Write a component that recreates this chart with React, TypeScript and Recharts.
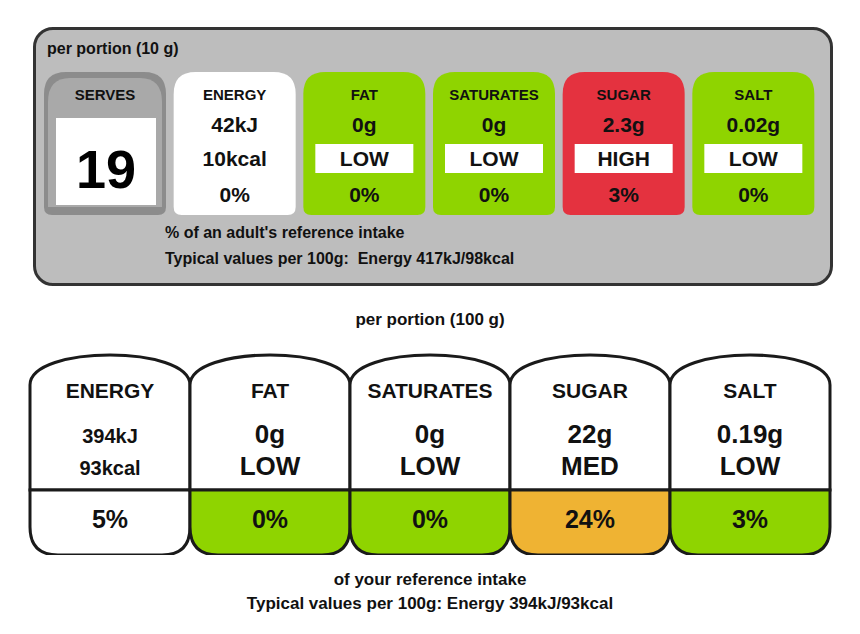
import React from "react";
import { BarChart, Bar, XAxis, YAxis } from "recharts";

const topNames = ["SERVES", "ENERGY", "FAT", "SATURATES", "SUGAR", "SALT"];
const topValues = ["19", "42kJ", "0g", "0g", "2.3g", "0.02g"];
const topSecond = ["", "10kcal", "LOW", "LOW", "HIGH", "LOW"];
const topPercents = ["", "0%", "0%", "0%", "3%", "0%"];
const topColors = ["#9a9a9a", "#ffffff", "#8fd400", "#8fd400", "#e4323f", "#8fd400"];

const botNames = ["ENERGY", "FAT", "SATURATES", "SUGAR", "SALT"];
const botValues = ["394kJ", "0g", "0g", "22g", "0.19g"];
const botSecond = ["93kcal", "LOW", "LOW", "MED", "LOW"];
const botPercents = ["5%", "0%", "0%", "24%", "3%"];
const botColors = ["#ffffff", "#8fd400", "#8fd400", "#efb333", "#8fd400"];

const topData = topNames.map((n, i) => ({ name: n, v: 1, value: topValues[i], second: topSecond[i], pct: topPercents[i], color: topColors[i], idx: i }));
const botData = botNames.map((n, i) => ({ name: n, v: 1, value: botValues[i], second: botSecond[i], pct: botPercents[i], color: botColors[i], idx: i }));

const F = "Arial, 'Liberation Sans', sans-serif";

const TopCell = (p: any) => {
  const { x, y, width: w, height: h, payload } = p;
  const rt = 22, rb = 8;
  const d = `M${x},${y + h - rb} L${x},${y + rt} Q${x},${y} ${x + rt},${y} L${x + w - rt},${y} Q${x + w},${y} ${x + w},${y + rt} L${x + w},${y + h - rb} Q${x + w},${y + h} ${x + w - rb},${y + h} L${x + rb},${y + h} Q${x},${y + h} ${x},${y + h - rb} Z`;
  const cx = x + w / 2;
  const t = { fontFamily: F, fontWeight: 700, textAnchor: "middle" as const, fill: "#111" };
  if (payload.idx === 0) {
    return (
      <g>
        <path d={d} fill="#8c8c8c" />
        <path d={`M${x + 4},${y + 30} Q${x + 4},${y + 6} ${x + 26},${y + 6} L${x + w - 26},${y + 6} Q${x + w - 4},${y + 6} ${x + w - 4},${y + 30} L${x + w - 4},${y + h - 8} L${x + 4},${y + h - 8} Z`} fill="#a9a9a9" />
        <text x={cx} y={y + 28} fontSize={15} {...t}>{payload.name}</text>
        <rect x={x + 12} y={y + 46} width={w - 22} height={87} fill="#fff" />
        <text x={cx + 1} y={y + 116} fontSize={54} {...t} fill="#000">{payload.value}</text>
      </g>
    );
  }
  const boxed = payload.idx >= 2;
  return (
    <g>
      <path d={d} fill={payload.color} />
      <text x={cx} y={y + 28} fontSize={15} {...t}>{payload.name}</text>
      <text x={cx} y={y + 60} fontSize={21} {...t}>{payload.value}</text>
      {boxed && <rect x={x + 12} y={y + 72} width={w - 24} height={29} fill="#fff" />}
      <text x={cx} y={y + 94} fontSize={21} {...t}>{payload.second}</text>
      <text x={cx} y={y + 130} fontSize={21} {...t}>{payload.pct}</text>
    </g>
  );
};

const BotCell = (p: any) => {
  const { x, y, width: w, height: h, payload } = p;
  const mid = y + 140;
  const b = y + h;
  const r = 28;
  const top = `M${x},${mid} L${x},${y + 35} C${x},${y - 5} ${x + w},${y - 5} ${x + w},${y + 35} L${x + w},${mid} Z`;
  const bot = `M${x},${mid} L${x + w},${mid} L${x + w},${b - r} Q${x + w},${b} ${x + w - r},${b} L${x + r},${b} Q${x},${b} ${x},${b - r} Z`;
  const cx = x + w / 2;
  const t = { fontFamily: F, fontWeight: 700, textAnchor: "middle" as const, fill: "#111" };
  const isE = payload.idx === 0;
  return (
    <g>
      <path d={top} fill="#fff" stroke="#1a1a1a" strokeWidth={3} />
      <path d={bot} fill={payload.color} stroke="#1a1a1a" strokeWidth={3} />
      <text x={cx} y={y + 48} fontSize={21} {...t}>{payload.name}</text>
      <text x={cx} y={y + 93} fontSize={isE ? 20 : 26} {...t}>{payload.value}</text>
      <text x={cx} y={y + 125} fontSize={isE ? 20 : 26} {...t}>{payload.second}</text>
      <text x={cx} y={y + 178} fontSize={25} {...t}>{payload.pct}</text>
    </g>
  );
};

export default function App() {
  const txt = (s: string, left: number, top: number, size: number, center = false) => (
    <div style={{ position: "absolute", left: center ? 0 : left, width: center ? 860 : undefined, textAlign: center ? "center" : "left", top, fontFamily: F, fontWeight: 700, fontSize: size, color: "#111", whiteSpace: "pre", lineHeight: 1 }}>{s}</div>
  );
  return (
    <div style={{ position: "absolute", left: 0, top: 0, width: 860, height: 634, background: "#fff" }}>
      <div style={{ position: "absolute", left: 33, top: 27, width: 794, height: 253, background: "#bdbdbd", border: "3px solid #333", borderRadius: 20 }} />
      {txt("per portion (10 g)", 47, 41, 16)}
      <div style={{ position: "absolute", left: 0, top: 72 }}>
        <BarChart width={860} height={143} data={topData} margin={{ top: 0, right: 42, bottom: 0, left: 40 }} barCategoryGap={4}>
          <XAxis dataKey="name" hide />
          <YAxis hide domain={[0, 1]} />
          <Bar dataKey="v" isAnimationActive={false} shape={TopCell} />
        </BarChart>
      </div>
      {txt("% of an adult's reference intake", 165, 225, 16)}
      {txt("Typical values per 100g:  Energy 417kJ/98kcal", 165, 251, 16)}
      {txt("per portion (100 g)", 0, 311, 17, true)}
      <div style={{ position: "absolute", left: 0, top: 350 }}>
        <BarChart width={860} height={205} data={botData} margin={{ top: 0, right: 30, bottom: 0, left: 30 }} barCategoryGap={0}>
          <XAxis dataKey="name" hide />
          <YAxis hide domain={[0, 1]} />
          <Bar dataKey="v" isAnimationActive={false} shape={BotCell} />
        </BarChart>
      </div>
      {txt("of your reference intake", 0, 571, 17, true)}
      {txt("Typical values per 100g: Energy 394kJ/93kcal", 0, 595, 17, true)}
    </div>
  );
}
